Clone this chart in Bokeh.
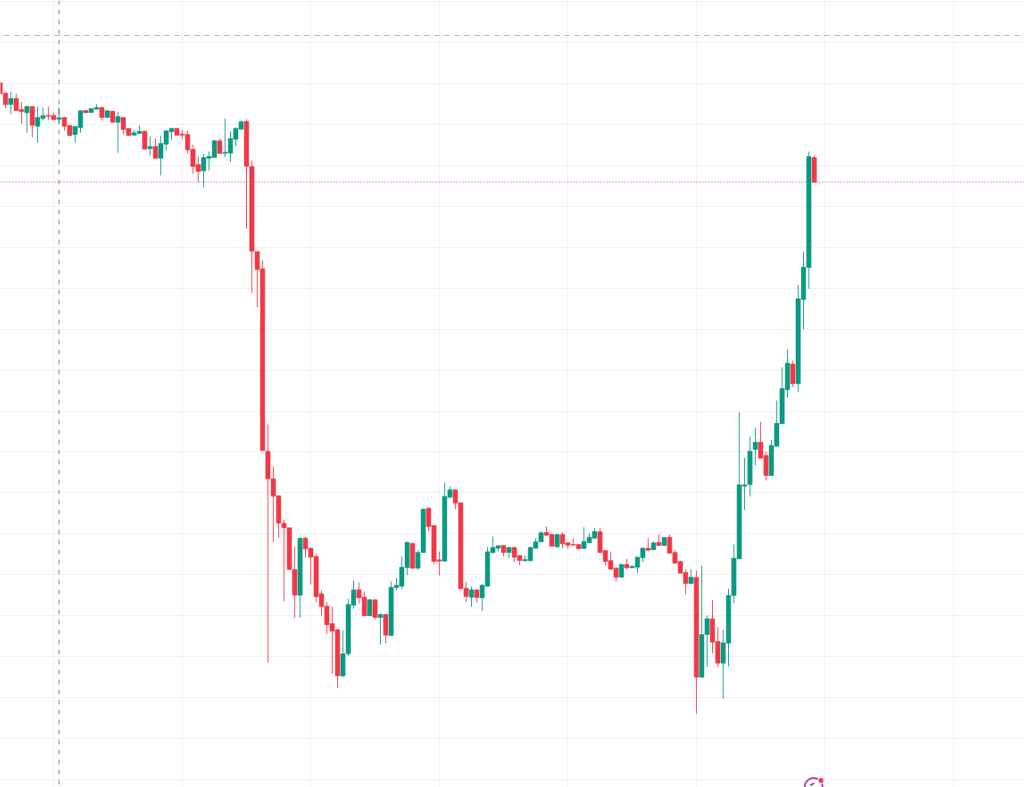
from bokeh.plotting import figure
from bokeh.models import ColumnDataSource, FixedTicker, Range1d
from bokeh.embed import file_html
from bokeh.resources import INLINE

OPEN = [704.7,694.3,683,689,678,674.7,681,661.3,669.3,672,672,668.3,670,662,653,660,677,675,678.3,680,670,676.3,665.3,670,659,652.3,654,656.3,638.7,641,629.3,643.3,655.7,659,653.3,653,638.3,623,616.7,629.3,630,646.7,634.3,634.3,648.3,658.3,666,621,536,518.7,336.3,308.7,291.7,264.3,259.7,218,192.3,249.3,239.3,231,193.7,181.3,164,157.7,111.7,133.7,182.3,197.7,190.3,171.7,187.7,170,173,152,200,201.3,220,244,219.3,235,279.3,262,227.7,226.3,290.3,297.7,284.7,199.3,190.3,197.7,189.7,201.3,235,239.3,242,235,240,232,226.7,226.7,239.3,245.7,255,253,240.7,253,244.7,243,243,239,244.7,249.3,255.7,237,227,219.3,210.3,223,219.7,220.3,229.7,239.3,237.7,245,242,250.3,235,226,215,204,210,110.3,153,168.7,146,124.3,144.3,192,228.7,301.3,303,338,345.3,332,312,341.3,363.7,397.7,423.3,403.7,488,520,630]
HIGH = [705,695,695.7,693.7,685.3,682,681,681,680,681,675,680,670,662,661,677,677.5,679,683,681,677.7,676.5,675.7,670,659,657.7,662,657,651,649,652,657,660,659.7,657.7,657,643,631,633.7,636,647.7,649,669,656.3,660.3,667,668,627,536,527,363,321,292,267.7,260,241,250,250.7,240,233.7,197,185.7,180.7,158.7,157,188.7,207,205,196,188.7,188,174.3,173.7,206,209.7,231,246,245,237.7,279,280,262,236,305,301,298,285,206,201,198,203.3,240.3,251,242,242,241,241,232,232,241,249.3,256.7,261,254,253.7,255,245.7,249.3,243.7,260.3,254.3,259.7,259.7,237.5,236,220,224,228.7,222.7,231,240,249.3,246,253,250.5,253,237.7,227,218,218,216.7,222,172,187.7,160.3,157.7,198.7,243,375.3,329.7,351,360,365.7,336.3,347.7,387,420.3,438,427,502.3,536,636,631.7]
LOW = [693.5,679.3,673.3,676.3,663.7,654.7,650.3,645,667,667,667,664,656.7,652,645,654.7,674.5,675,678,667,669.5,664.7,634.7,653,652,652,654,638,632,629,612,637,647.7,652,648.3,634,613.7,605.3,600.3,617,629.5,633.5,630.3,625.7,641,658,558.7,494.3,480.3,337,124.7,245.3,249.7,186.3,218,169.7,169.7,229.7,203,185.3,172,153.7,113.7,99.3,110.3,131.3,178.7,184,171.5,171.5,168,142.7,144.3,151.5,197,198,212.3,219,217.7,234.5,256,223.3,212,226,289,278.3,198.5,185.3,180.7,185,176.3,201,233.7,236,231,229.3,225.3,222,226,226.5,239,245.5,251.3,241,239.7,239.3,239,241.7,237.7,238.5,244.5,249,234.5,222,218,206,210,218.3,219.3,214.3,225.3,236,237.5,241.7,241.7,234,224,214,193,203.7,73.7,110,120.3,134.3,120.3,88.7,121,184.3,228.5,277.7,291,322,329,307,311.5,341,363.5,389.7,400.3,395.3,458,498.7,605]
CLOSE = [693.7,683,689,677,676,681,662.3,670,671.7,671.3,668,669.7,661.3,652,661,676.7,674.7,679,680,670,676.7,665.3,671,658,652,654.7,656.3,638.3,641,629.3,644,656.7,659,652.3,652.3,637.7,621,616,630,631,646.7,634,635.3,649,659,665.7,621.3,536.3,518,337,308.7,291.3,264.3,259.7,218,192.3,249.3,238.7,230.3,190.7,181,162.7,156.3,111.7,133.7,183,197.7,189.7,171.7,187.7,170,173,152.3,200.3,202.3,220.3,245,219.3,235,278.3,261,226,226.3,291,297.7,284.3,198.7,191,197.7,190,202.3,235.7,240,241.7,235,240,230.3,227,228,240,245.7,254.7,252.3,241.3,253,243.7,242.3,242.3,238.7,246,250.3,256,235,226,218.3,210.3,223,219.7,221,230.3,239.3,237.3,244.7,242,250,234.3,224.3,214.3,204,210.3,110.3,153,168.7,145.3,124.3,144.7,192,229.3,302.7,302.7,336.3,345.3,329.3,312,342,364.3,399,424.3,403.7,488.7,520.3,631,605.3]

LAST_PRICE = 605.5
PRICE_GRID = [786.3 - 40.98 * k for k in range(0, 20)]
TIME_GRID = [10 + 24 * k for k in range(0, 8)]
CROSS_X = 11
CROSS_Y = 752

RED = "#F23645"
GREEN = "#089981"
GRID = "#F3F3F4"
X_START, X_END = 0.0665, 191.26
Y_START, Y_END = 0, 787

n = len(OPEN)
idx = list(range(n))
colors = [GREEN if CLOSE[i] >= OPEN[i] else RED for i in idx]
src = ColumnDataSource(dict(x=idx, o=OPEN, h=HIGH, l=LOW, c=CLOSE, color=colors,
                            top=[max(OPEN[i], CLOSE[i]) for i in idx],
                            bot=[min(OPEN[i], CLOSE[i]) for i in idx]))

p = figure(width=1024, height=787, output_backend="svg", toolbar_location=None,
           x_range=Range1d(X_START, X_END), y_range=Range1d(Y_START, Y_END),
           min_border=0, min_border_left=0, min_border_right=0, min_border_top=0, min_border_bottom=0,
           background_fill_color="#FFFFFF", border_fill_color="#FFFFFF")
p.outline_line_color = None
p.xaxis.visible = False
p.yaxis.visible = False
p.xgrid[0].ticker = FixedTicker(ticks=TIME_GRID)
p.ygrid[0].ticker = FixedTicker(ticks=PRICE_GRID)
p.xgrid[0].grid_line_color = GRID
p.ygrid[0].grid_line_color = GRID
p.xgrid[0].grid_line_width = 1
p.ygrid[0].grid_line_width = 1

# last price line
p.line([X_START, X_END], [LAST_PRICE, LAST_PRICE], line_color=RED, line_alpha=0.9, line_width=1, line_dash="1 2")
# crosshair
p.line([CROSS_X - 0.01, CROSS_X - 0.01], [Y_END + 1, Y_START], line_color="#8A8D96", line_width=1, line_dash="5 5")
p.line([0.81, X_END], [CROSS_Y, CROSS_Y], line_color="#B2B5BE", line_width=1, line_dash="5 5")

p.segment("x", "h", "x", "l", source=src, line_color="color", line_width=1, line_alpha=0.85)
p.vbar(x="x", width=0.82, top="top", bottom="bot", source=src, fill_color="color", line_color="color",
       line_width=0.5)

# event marker below the last bar
p.scatter([n - 1.1], [0.5], marker="circle", size=18, fill_color=None, line_color="#AB47BC", line_width=2)
p.segment([n - 1.75], [2], [n - 1.0], [4.5], line_color="#AB47BC", line_width=2)
p.scatter([n - 1 + 1.25], [7], marker="circle", size=6, fill_color=RED, line_color="#FFFFFF", line_width=1)

open("out.html", "w").write(file_html(p, INLINE))
